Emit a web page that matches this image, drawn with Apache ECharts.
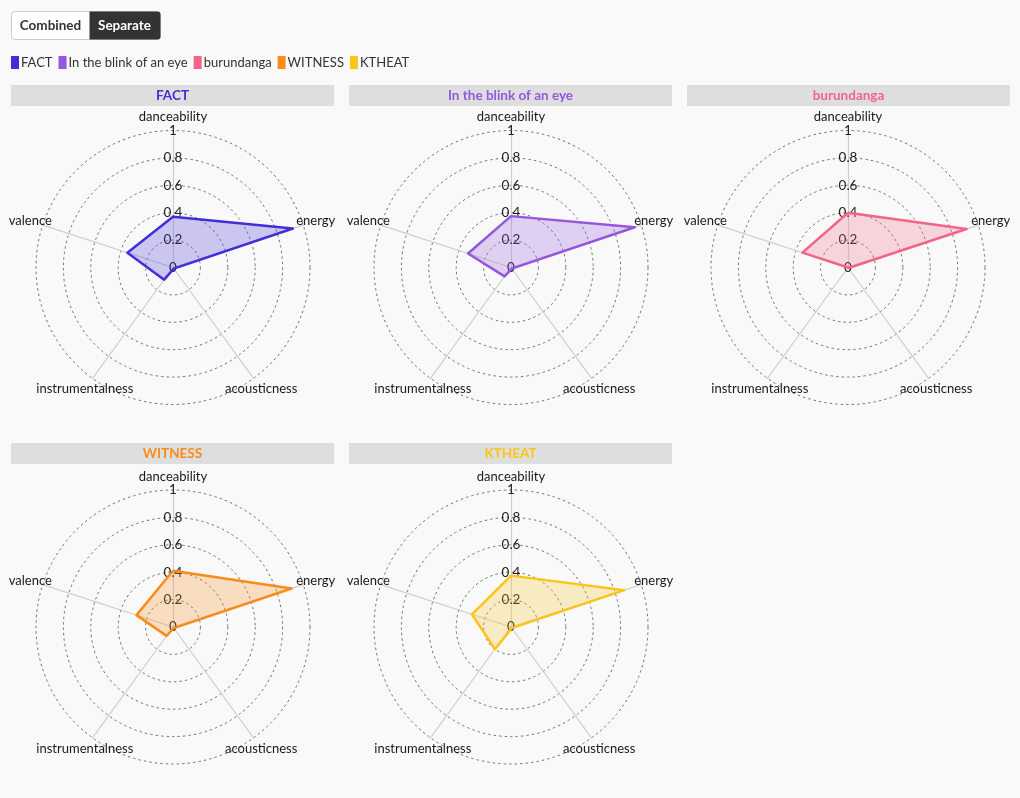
<!DOCTYPE html>
<html>
<head>
<meta charset="utf-8">
<script src="https://cdn.jsdelivr.net/npm/echarts@6/dist/echarts.min.js"></script>
<style>
html,body{margin:0;padding:0;background:#f9f9f9;}
#c{width:1020px;height:798px;}
</style>
</head>
<body>
<div id="c"></div>
<script>
// Axes, in drawing order (ECharts lays radar indicators counter-clockwise from the top)
const features = ['danceability', 'valence', 'instrumentalness', 'acousticness', 'energy'];
const tracks = ['FACT', 'In the blink of an eye', 'burundanga', 'WITNESS', 'KTHEAT'];
const colors = ['#4130d8', '#9457e0', '#f26588', '#f98c1b', '#fbc51a'];
// values per track, same order as features
const factValues       = [0.37, 0.35, 0.11, 0.01, 0.92];
const blinkValues      = [0.375, 0.33, 0.08, 0.01, 0.95];
const burundangaValues = [0.40, 0.35, 0.00, 0.005, 0.91];
const witnessValues    = [0.41, 0.28, 0.08, 0.01, 0.91];
const ktheatValues     = [0.375, 0.30, 0.20, 0.01, 0.87];
const allValues = [factValues, blinkValues, burundangaValues, witnessValues, ktheatValues];
const scaleMin = 0, scaleMax = 1, scaleSplits = 5;

const FONT = 'Lato';
// layout of the five small multiples
const panelLeft = [11, 349, 687, 11, 349];
const panelTop = [85, 85, 85, 443, 443];
const panelW = 323;
const centers = [[173, 267.5], [511, 267.5], [848, 267.5], [173, 627], [511, 627]];
const R = 137;

const tickLabelStyle = {
  show: true, margin: 0, color: '#222', fontSize: 13.5, fontFamily: FONT,
  align: 'center', verticalAlign: 'middle', hideOverlap: false
};

const radars = centers.map(c => ({
  center: c,
  radius: R,
  shape: 'circle',
  splitNumber: scaleSplits,
  startAngle: 90,
  nameGap: 13,
  axisName: { color: '#1a1a1a', fontSize: 13, fontFamily: FONT, align: 'center', verticalAlign: 'middle' },
  indicator: features.map((f, i) => ({
    name: f, min: scaleMin, max: scaleMax,
    axisLabel: i === 0 ? Object.assign({}, tickLabelStyle) : { show: false }
  })),
  axisLine: { show: true, lineStyle: { color: '#cfcfcf', width: 1.2 } },
  axisTick: { show: false },
  axisLabel: Object.assign({}, tickLabelStyle, { show: false }),
  splitLine: { show: true, lineStyle: { color: '#727272', width: 1, type: [2.5, 3] } },
  splitArea: { show: false }
}));

const series = tracks.map((t, i) => ({
  type: 'radar',
  name: t,
  radarIndex: i,
  symbol: 'none',
  lineStyle: { color: colors[i], width: 2.5 },
  itemStyle: { color: colors[i] },
  areaStyle: { color: colors[i], opacity: 0.25 },
  data: [{ name: t, value: allValues[i] }]
}));

const graphic = [];
// Combined / Separate toggle
graphic.push({
  type: 'group', left: 11, top: 11, children: [
    { type: 'rect', shape: { x: 0, y: 0, width: 149, height: 28, r: 3 }, style: { fill: '#ffffff', stroke: '#cccccc', lineWidth: 1 } },
    { type: 'rect', shape: { x: 78, y: 0, width: 71, height: 28, r: [0, 3, 3, 0] }, style: { fill: '#333333' } },
    { type: 'text', x: 39, y: 14, style: { text: 'Combined', fill: '#333', font: 'bold 13.5px Lato', align: 'center', verticalAlign: 'middle' } },
    { type: 'text', x: 113, y: 14, style: { text: 'Separate', fill: '#fff', font: 'bold 13.5px Lato', align: 'center', verticalAlign: 'middle' } }
  ]
});
// panel header bars with titles
tracks.forEach((t, i) => {
  graphic.push({
    type: 'rect', left: panelLeft[i], top: panelTop[i],
    shape: { x: 0, y: 0, width: panelW, height: 21 },
    style: { fill: '#dedede' }, z: -1
  });
  graphic.push({
    type: 'text', x: panelLeft[i] + panelW / 2, y: panelTop[i] + 10.5,
    style: { text: t, fill: colors[i], font: 'bold 13.5px Lato', align: 'center', verticalAlign: 'middle' }
  });
});

const chart = echarts.init(document.getElementById('c'), null, { renderer: 'canvas' });
chart.setOption({
  backgroundColor: '#f9f9f9',
  animation: false,
  textStyle: { fontFamily: FONT },
  color: colors,
  legend: {
    left: 11, top: 56, padding: 0, icon: 'rect', itemWidth: 8, itemHeight: 13, itemGap: 6,
    data: tracks,
    textStyle: { fontSize: 13, color: '#333', fontFamily: FONT, padding: [0, 0, 0, -3] }
  },
  radar: radars,
  series: series,
  graphic: graphic
});
</script>
</body>
</html>
